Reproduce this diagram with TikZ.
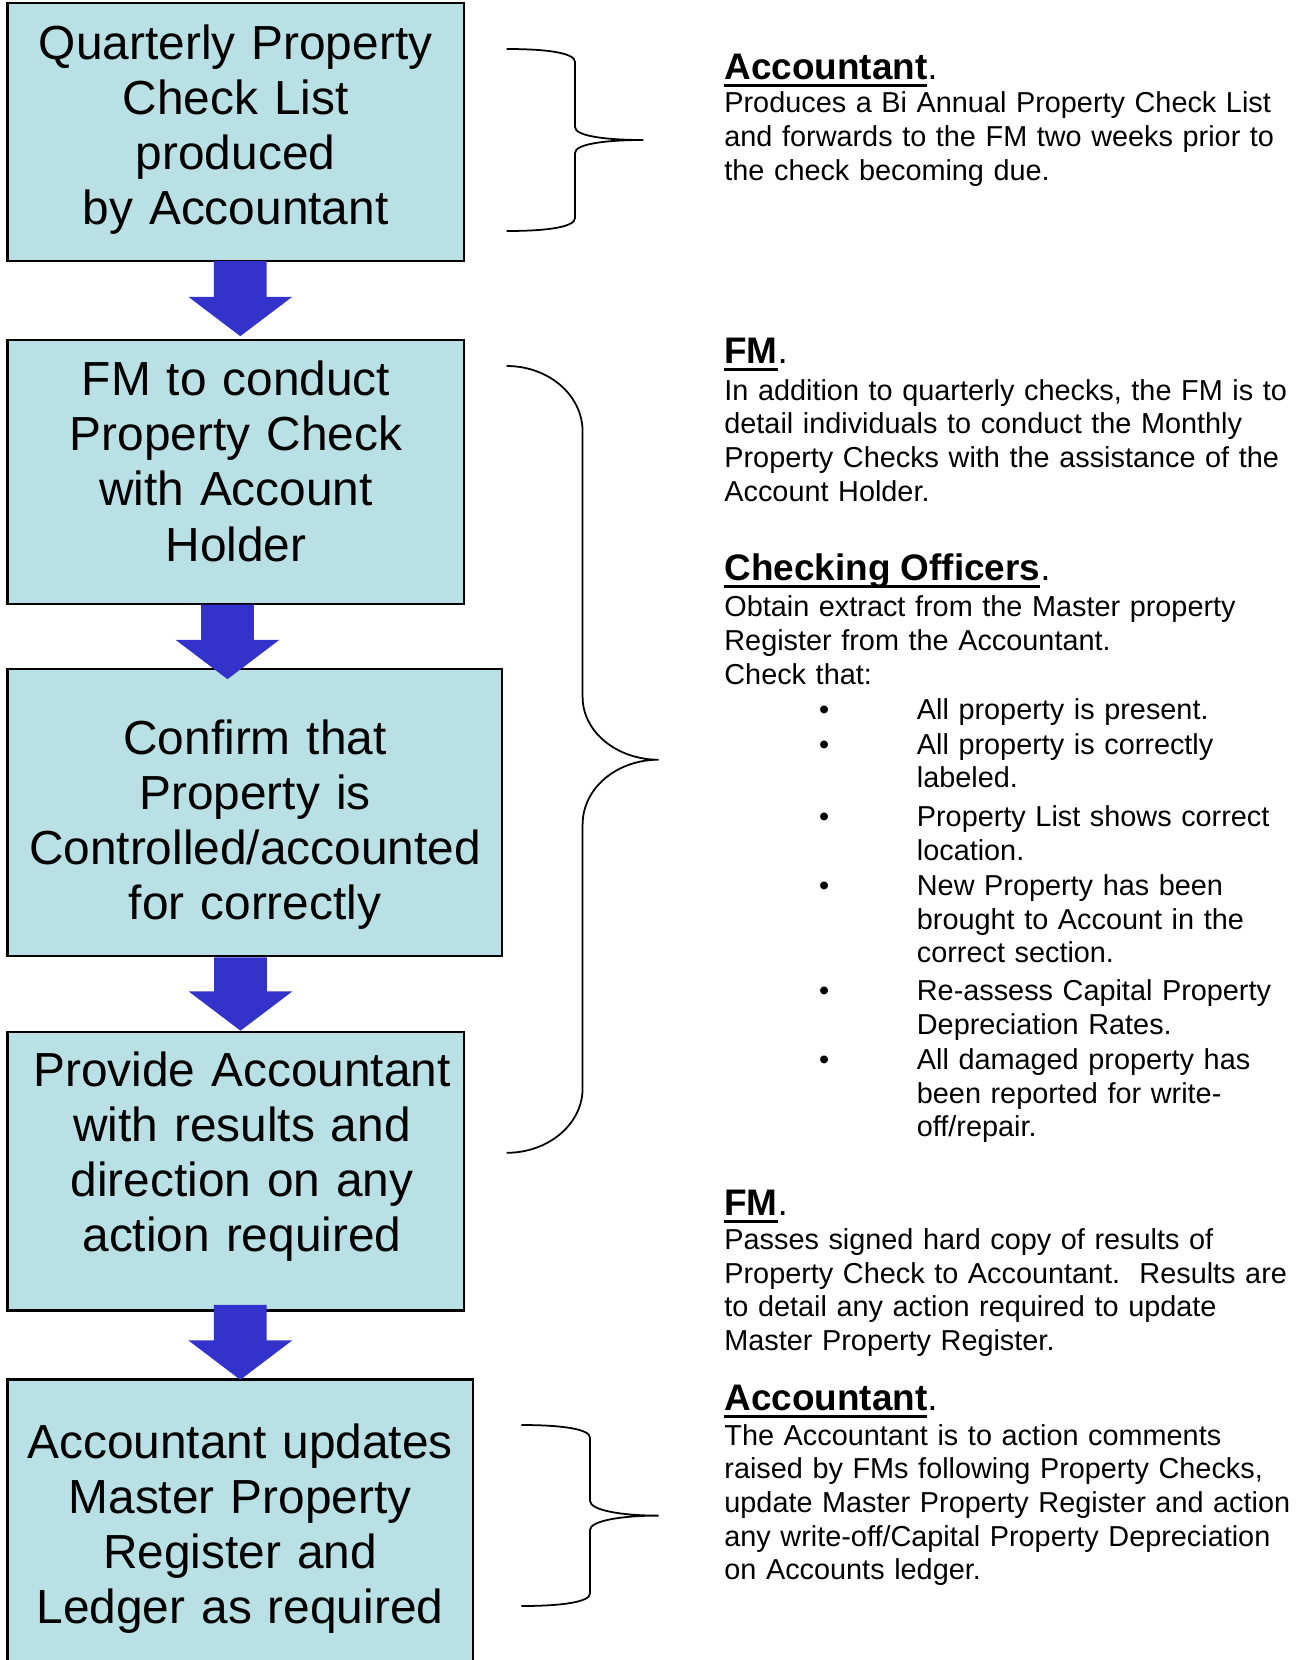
\documentclass[tikz,border=0pt]{standalone}
\usepackage{fontspec}
\setmainfont{Liberation Sans}
\usetikzlibrary{calc}

\definecolor{boxfill}{RGB}{185,224,228}
\definecolor{arrowblue}{RGB}{51,51,204}

% bold heading with a heavy underline
\newcommand{\headul}[1]{\leavevmode\setbox0\hbox{\textbf{#1}}\rlap{\rule[-2.2pt]{\wd0}{0.85pt}}\box0}

\tikzset{
  stepbox/.style={draw, line width=0.6pt, fill=boxfill, inner sep=0pt},
  boxtext/.style={font=\fontsize{13.6}{15.65}\selectfont, align=center, text width=4.9cm, inner sep=0pt, anchor=base},
  heading/.style={font=\fontsize{10.5}{12}\selectfont, anchor=base west, inner sep=0pt},
  bodytext/.style={font=\fontsize{8.2}{9.58}\selectfont, text width=5.9cm, align=left, anchor=base west, inner sep=0pt},
  brace/.style={line width=0.5pt},
  blockarrow/.style={fill=arrowblue, to path={
    ($(\tikztostart)+(-26.4,0)$) -- ($(\tikztotarget)+(-26.4,-39.4)$) -- ($(\tikztotarget)+(-52,-39.4)$)
    -- (\tikztotarget) -- ($(\tikztotarget)+(52,-39.4)$) -- ($(\tikztotarget)+(26.4,-39.4)$)
    -- ($(\tikztostart)+(26.4,0)$) -- cycle}}
}

\begin{document}
\begin{tikzpicture}[x=0.01cm, y=-0.01cm]
  \useasboundingbox (0,0) rectangle (1300,1660);

  % flow boxes
  \node[stepbox, minimum width=4.564cm, minimum height=2.575cm] (q1) at (235.8,132.25) {};
  \node[stepbox, minimum width=4.564cm, minimum height=2.635cm] (q2) at (235.8,471.75) {};
  \node[stepbox, minimum width=4.944cm, minimum height=2.872cm] (q3) at (254.8,812.6) {};
  \node[stepbox, minimum width=4.564cm, minimum height=2.786cm] (q4) at (235.8,1171.1) {};
  \node[stepbox, minimum width=4.654cm, minimum height=3.404cm] (q5) at (240.3,1549.8) {};

  \node[boxtext] (q1t) at (235.6,59.3) {Quarterly Property\\Check List\\produced\\by Accountant};
  \node[boxtext] (q2t) at (236,395.9) {FM to conduct\\Property Check\\with Account\\Holder};
  \node[boxtext] (q3t) at (255,754) {Confirm that\\Property is\\Controlled/accounted\\for correctly};
  \node[boxtext] (q4t) at (242,1086.3) {Provide Accountant\\with results and\\direction on any\\action required};
  \node[boxtext] (q5t) at (240,1458.8) {Accountant updates\\Master Property\\Register and\\Ledger as required};

  % block arrows
  \path[blockarrow] ([xshift=0.045cm,yshift=0.01cm]q1.south) to ([xshift=0.045cm,yshift=0.027cm]q2.north);
  \path[blockarrow] ([xshift=-0.083cm]q2.south) to ([xshift=-0.273cm,yshift=-0.113cm]q3.north);
  \path[blockarrow] ([xshift=-0.143cm]q3.south) to ([xshift=0.047cm]q4.north);
  \path[blockarrow] ([xshift=0.045cm,yshift=0.067cm]q4.south) to ([yshift=-0.013cm]q5.north);

  % braces
  \draw[brace] (506.7,49) .. controls (548,49) and (575,53) .. (575,62) -- (575,127)
    .. controls (575,136) and (605,140) .. (643.3,140) .. controls (605,140) and (575,144) .. (575,153)
    -- (575,218) .. controls (575,227) and (548,231) .. (506.7,231);
  \draw[brace] (506.7,366) .. controls (548.5,366) and (582.6,395) .. (582.6,431.6) -- (582.6,697)
    .. controls (582.6,732) and (617,759.7) .. (658.5,759.7) .. controls (617,759.7) and (582.6,788) .. (582.6,824.5)
    -- (582.6,1088.4) .. controls (582.6,1124) and (548.5,1152.8) .. (506.7,1152.8);
  \draw[brace] (521.4,1425) .. controls (562,1425) and (590,1429) .. (590,1437.7) -- (590,1500.8)
    .. controls (590,1510) and (620,1515.6) .. (658.5,1515.6) .. controls (620,1515.6) and (590,1521) .. (590,1530)
    -- (590,1593.4) .. controls (590,1602) and (562,1606) .. (521.4,1606);

  % notes
  \node[heading] (h1) at (723.7,79) {\headul{Accountant}.};
  \node[bodytext] (n1) at (723.7,112.7) {Produces a Bi Annual Property Check List\\and forwards to the FM two weeks prior to\\the check becoming due.};

  \node[heading] (h2) at (723.7,363.3) {\headul{FM}.};
  \node[bodytext] (n2) at (723.7,400) {In addition to quarterly checks, the FM is to\\detail individuals to conduct the Monthly\\Property Checks with the assistance of the\\Account Holder.};

  \node[heading] (h3) at (723.7,580) {\headul{Checking Officers}.};
  \node[bodytext] (n3) at (723.7,616.9) {Obtain extract from the Master property\\Register from the Accountant.\\Check that:};

  \foreach \yy/\txt [count=\i] in {719.7/{All property is present.},
      754/{All property is correctly\\labeled.},
      826.4/{Property List shows correct\\location.},
      895.6/{New Property has been\\brought to Account in the\\correct section.},
      1000.4/{Re-assess Capital Property\\Depreciation Rates.},
      1069.6/{All damaged property has\\been reported for write-\\off/repair.}} {
    \node[bodytext, text width=1em] (dot\i) at (818.5,\yy) {\textbullet};
    \node[bodytext, text width=4cm] (item\i) at (916.2,\yy) {\txt};
  }

  \node[heading] (h4) at (723.7,1215) {\headul{FM}.};
  \node[bodytext] (n4) at (723.7,1249.3) {Passes signed hard copy of results of\\Property Check to Accountant.\ \ Results are\\to detail any action required to update\\Master Property Register.};

  \node[heading] (h5) at (723.7,1410) {\headul{Accountant}.};
  \node[bodytext] (n5) at (723.7,1445) {The Accountant is to action comments\\raised by FMs following Property Checks,\\update Master Property Register and action\\any write-off/Capital Property Depreciation\\on Accounts ledger.};
\end{tikzpicture}
\end{document}
